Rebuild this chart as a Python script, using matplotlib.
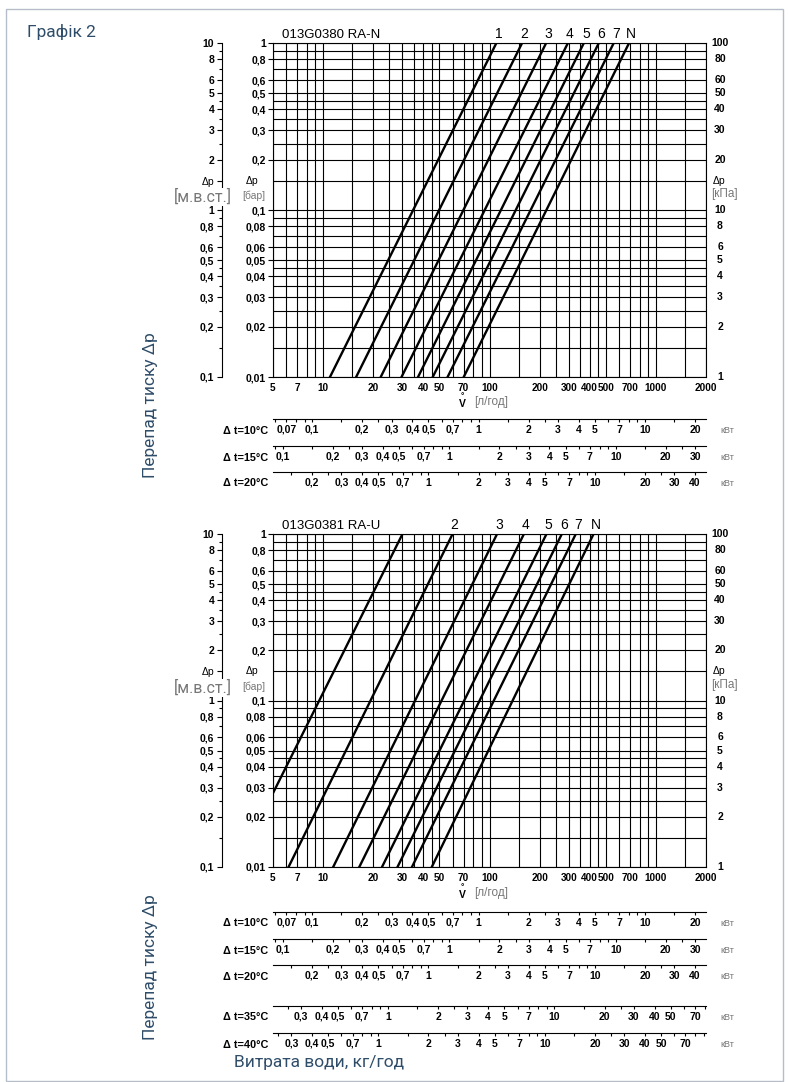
import numpy as np
import matplotlib
matplotlib.use('Agg')
import matplotlib.pyplot as plt
from matplotlib import ticker, transforms
from matplotlib.patches import Rectangle

plt.rcParams['font.family'] = ['Liberation Sans', 'DejaVu Sans']

# flow (l/h) of each curve at 0.01 bar and at 1 bar
top_q_low = [11.0, 15.8, 22.2, 29.6, 37.2, 45.6, 56.0, 70.0]
top_q_high = [110, 157, 219, 296, 369, 454, 558, 690]
top_names = ['1', '2', '3', '4', '5', '6', '7', 'N']

bot_q_low = [3.0, 6.2, 11.5, 16.5, 22.6, 28.0, 34.2, 45.0]
bot_q_high = [30, 60, 111, 161, 220, 272, 330, 422]
bot_names = ['', '2', '3', '4', '5', '6', '7', 'N']

# axis ticks / grid
flow_labeled = [5, 7, 10, 20, 30, 40, 50, 70, 100, 200, 300, 400, 500, 700, 1000, 2000]
flow_grid = [6, 8, 9, 15, 25, 35, 45, 60, 80, 90, 150, 250, 350, 450, 600, 800, 900, 1500]
dp_labeled = [0.01, 0.02, 0.03, 0.04, 0.05, 0.06, 0.08, 0.1, 0.2, 0.3, 0.4, 0.5, 0.6, 0.8, 1]
dp_grid = [0.015, 0.025, 0.035, 0.045, 0.07, 0.09, 0.15, 0.25, 0.35, 0.45, 0.7, 0.9]
kpa_labeled = [1, 2, 3, 4, 5, 6, 8, 10, 20, 30, 40, 50, 60, 80, 100]
mwc_labeled = [0.1, 0.2, 0.3, 0.4, 0.5, 0.6, 0.8, 1, 1.5, 2, 3, 4, 5, 6, 8, 10]
mwc_minor = [0.15, 0.25, 0.35, 0.45, 0.7, 0.9, 2.5, 3.5, 4.5, 7, 9]

# heat output scales (kW) for each delta t
kw_dt10 = [0.07, 0.1, 0.2, 0.3, 0.4, 0.5, 0.7, 1, 2, 3, 4, 5, 7, 10, 20]
kw_dt15 = [0.1, 0.2, 0.3, 0.4, 0.5, 0.7, 1, 2, 3, 4, 5, 7, 10, 20, 30]
kw_dt20 = [0.2, 0.3, 0.4, 0.5, 0.7, 1, 2, 3, 4, 5, 7, 10, 20, 30, 40]
kw_dt35 = [0.3, 0.4, 0.5, 0.7, 1, 2, 3, 4, 5, 7, 10, 20, 30, 40, 50, 70]
kw_dt40 = [0.3, 0.4, 0.5, 0.7, 1, 2, 3, 4, 5, 7, 10, 20, 30, 40, 50, 70]
kw_mantissa = [1, 1.5, 2, 2.5, 3, 4, 5, 6, 7, 8, 9]

W, H = 788, 1082
BLUE = '#2f4d69'
GRAY = '#777777'
fig = plt.figure(figsize=(W / 100, H / 100), dpi=100)


def box(x0, y0, x1, y1):
    return [x0 / W, 1 - y1 / H, (x1 - x0) / W, (y1 - y0) / H]


def fx(x):
    return x / W


def fy(y):
    return 1 - y / H


def comma(v):
    return f'{v:g}'.replace('.', ',')


def bold_labels(ax):
    for t in ax.get_xticklabels() + ax.get_yticklabels():
        t.set_fontweight('bold')


def draw_chart(y0, y1, q_low, q_high, names, code):
    ax = fig.add_axes(box(273, y0, 706, y1))
    ax.set_xscale('log')
    ax.set_yscale('log')
    ax.set_xlim(5, 2000)
    ax.set_ylim(0.01, 1)
    ax.xaxis.set_major_locator(ticker.FixedLocator(flow_labeled))
    ax.xaxis.set_major_formatter(ticker.FixedFormatter([str(v) for v in flow_labeled]))
    ax.xaxis.set_minor_locator(ticker.FixedLocator(flow_grid))
    ax.xaxis.set_minor_formatter(ticker.NullFormatter())
    ax.yaxis.set_major_locator(ticker.FixedLocator(dp_labeled))
    ax.yaxis.set_major_formatter(ticker.FixedFormatter([comma(v) for v in dp_labeled]))
    ax.yaxis.set_minor_locator(ticker.FixedLocator(dp_grid))
    ax.yaxis.set_minor_formatter(ticker.NullFormatter())
    ax.grid(True, which='both', color='black', lw=0.8)
    ax.set_axisbelow(True)
    ax.tick_params(axis='x', which='both', length=0, pad=4, labelsize=7.2)
    ax.tick_params(axis='y', which='major', length=3.6, width=0.8, pad=1.5, labelsize=7.5)
    ax.tick_params(axis='y', which='minor', length=0)
    for s in ax.spines.values():
        s.set_linewidth(0.8)
    bold_labels(ax)

    for lo, hi in zip(q_low, q_high):
        ax.plot([lo, hi], [0.01, 1], color='black', lw=1.7)

    tr = transforms.offset_copy(transforms.blended_transform_factory(ax.transData, fig.transFigure),
                                fig=fig, x=2, units='dots')
    for q, name in zip(q_high, names):
        ax.text(q, fy(y0 - 9), name, transform=tr, ha='center', va='center', fontsize=10)
    fig.text(fx(282), fy(y0 - 8), code, ha='left', va='center', fontsize=9.5)

    # right kPa scale
    rt = transforms.blended_transform_factory(fig.transFigure, ax.transData)
    for v in kpa_labeled:
        ax.text(fx(720), v / 100, str(v), transform=rt, ha='center', va='center',
                fontsize=7.5, fontweight='bold')
    ax.text(fx(719), 0.15, 'Δp', transform=rt, ha='center', va='center', fontsize=7.5)
    fig.text(fx(724), fy(y0 + 151), '[кПа]', ha='center', va='center', fontsize=8.5, color=GRAY)

    # bar label
    ax.text(fx(252), 0.15, 'Δp', transform=rt, ha='center', va='center', fontsize=7.5)
    fig.text(fx(254), fy(y0 + 153), '[бар]', ha='center', va='center', fontsize=7.5, color=GRAY)

    # left m.w.c. scale
    axl = fig.add_axes(box(222, y0, 223, y1))
    axl.set_yscale('log')
    axl.set_ylim(0.1, 10)
    axl.set_xticks([])
    axl.patch.set_visible(False)
    for s in ['top', 'right', 'bottom']:
        axl.spines[s].set_visible(False)
    axl.spines['left'].set_linewidth(0.8)
    axl.yaxis.set_major_locator(ticker.FixedLocator(mwc_labeled))
    axl.yaxis.set_major_formatter(ticker.FixedFormatter(
        ['Δp' if v == 1.5 else comma(v) for v in mwc_labeled]))
    axl.yaxis.set_minor_locator(ticker.FixedLocator(mwc_minor))
    axl.yaxis.set_minor_formatter(ticker.NullFormatter())
    axl.tick_params(which='major', length=3.5, width=0.8, pad=2, labelsize=7.5)
    axl.tick_params(which='minor', length=2.5, width=0.8)
    bold_labels(axl)
    for t in axl.get_yticklabels():
        if t.get_text() == 'Δp':
            t.set_fontweight('normal')
    fig.text(fx(203), fy(y0 + 154), '[м.в.ст.]', ha='center', va='center', fontsize=11.5,
             color=GRAY, family=['Roboto', 'DejaVu Sans'],
             bbox=dict(facecolor='white', edgecolor='none', pad=0.5))

    # flow axis label
    fig.text(fx(462), fy(y0 + 361), 'V', ha='center', va='center', fontsize=7.5, fontweight='bold')
    fig.text(fx(462), fy(y0 + 354), '°', ha='center', va='center', fontsize=6, fontweight='bold')
    fig.text(fx(474), fy(y0 + 359), '[л/год]', ha='left', va='center', fontsize=8.5, color=GRAY)


def draw_row(y_line, dt, labels):
    k = 4.187 * dt / 3600
    lo, hi = 5 * k, 2000 * k
    ax = fig.add_axes(box(273, y_line - 4, 706, y_line))
    ax.set_xscale('log')
    ax.set_xlim(lo, hi)
    ax.set_yticks([])
    ax.patch.set_visible(False)
    for s in ['top', 'left', 'right']:
        ax.spines[s].set_visible(False)
    ax.spines['bottom'].set_linewidth(0.8)
    minor = []
    for d in [0.01, 0.1, 1, 10, 100]:
        for m in kw_mantissa:
            v = m * d
            if lo <= v <= hi and not np.any(np.isclose(v, labels)):
                minor.append(v)
    ax.xaxis.set_major_locator(ticker.FixedLocator(labels))
    ax.xaxis.set_major_formatter(ticker.FixedFormatter([comma(v) for v in labels]))
    ax.xaxis.set_minor_locator(ticker.FixedLocator(minor))
    ax.xaxis.set_minor_formatter(ticker.NullFormatter())
    ax.tick_params(which='both', direction='out', length=2.3, width=0.8, pad=2, labelsize=7.5)
    bold_labels(ax)
    fig.text(fx(268), fy(y_line + 11.5), f'Δ t={dt}°C', ha='right', va='center',
             fontsize=7.8, fontweight='bold')
    fig.text(fx(727), fy(y_line + 11.5), 'кВт', ha='center', va='center', fontsize=6.5, color=GRAY)


draw_chart(43, 377, top_q_low, top_q_high, top_names, '013G0380 RA-N')
draw_row(419, 10, kw_dt10)
draw_row(446, 15, kw_dt15)
draw_row(472, 20, kw_dt20)

draw_chart(534, 867, bot_q_low, bot_q_high, bot_names, '013G0381 RA-U')
draw_row(912, 10, kw_dt10)
draw_row(939, 15, kw_dt15)
draw_row(965, 20, kw_dt20)
draw_row(1006, 35, kw_dt35)
draw_row(1033, 40, kw_dt40)

ui = ['Roboto', 'DejaVu Sans']
fig.text(fx(27), fy(32), 'Графік 2', ha='left', va='center', fontsize=12.5, color=BLUE, family=ui)
fig.text(fx(150), fy(405), 'Перепад тиску Δр', ha='center', va='center', rotation=90,
         fontsize=12.5, color=BLUE, family=ui)
fig.text(fx(150), fy(967), 'Перепад тиску Δр', ha='center', va='center', rotation=90,
         fontsize=12.5, color=BLUE, family=ui)
fig.text(fx(234), fy(1063), 'Витрата води, кг/год', ha='left', va='center', fontsize=12.5,
         color=BLUE, family=ui)

fig.add_artist(Rectangle((fx(6), fy(1081)), fx(783) - fx(6), fy(9) - fy(1081),
                         transform=fig.transFigure, fill=False, edgecolor='#b5bec8', lw=1))

fig.savefig('out.png', dpi=100)
